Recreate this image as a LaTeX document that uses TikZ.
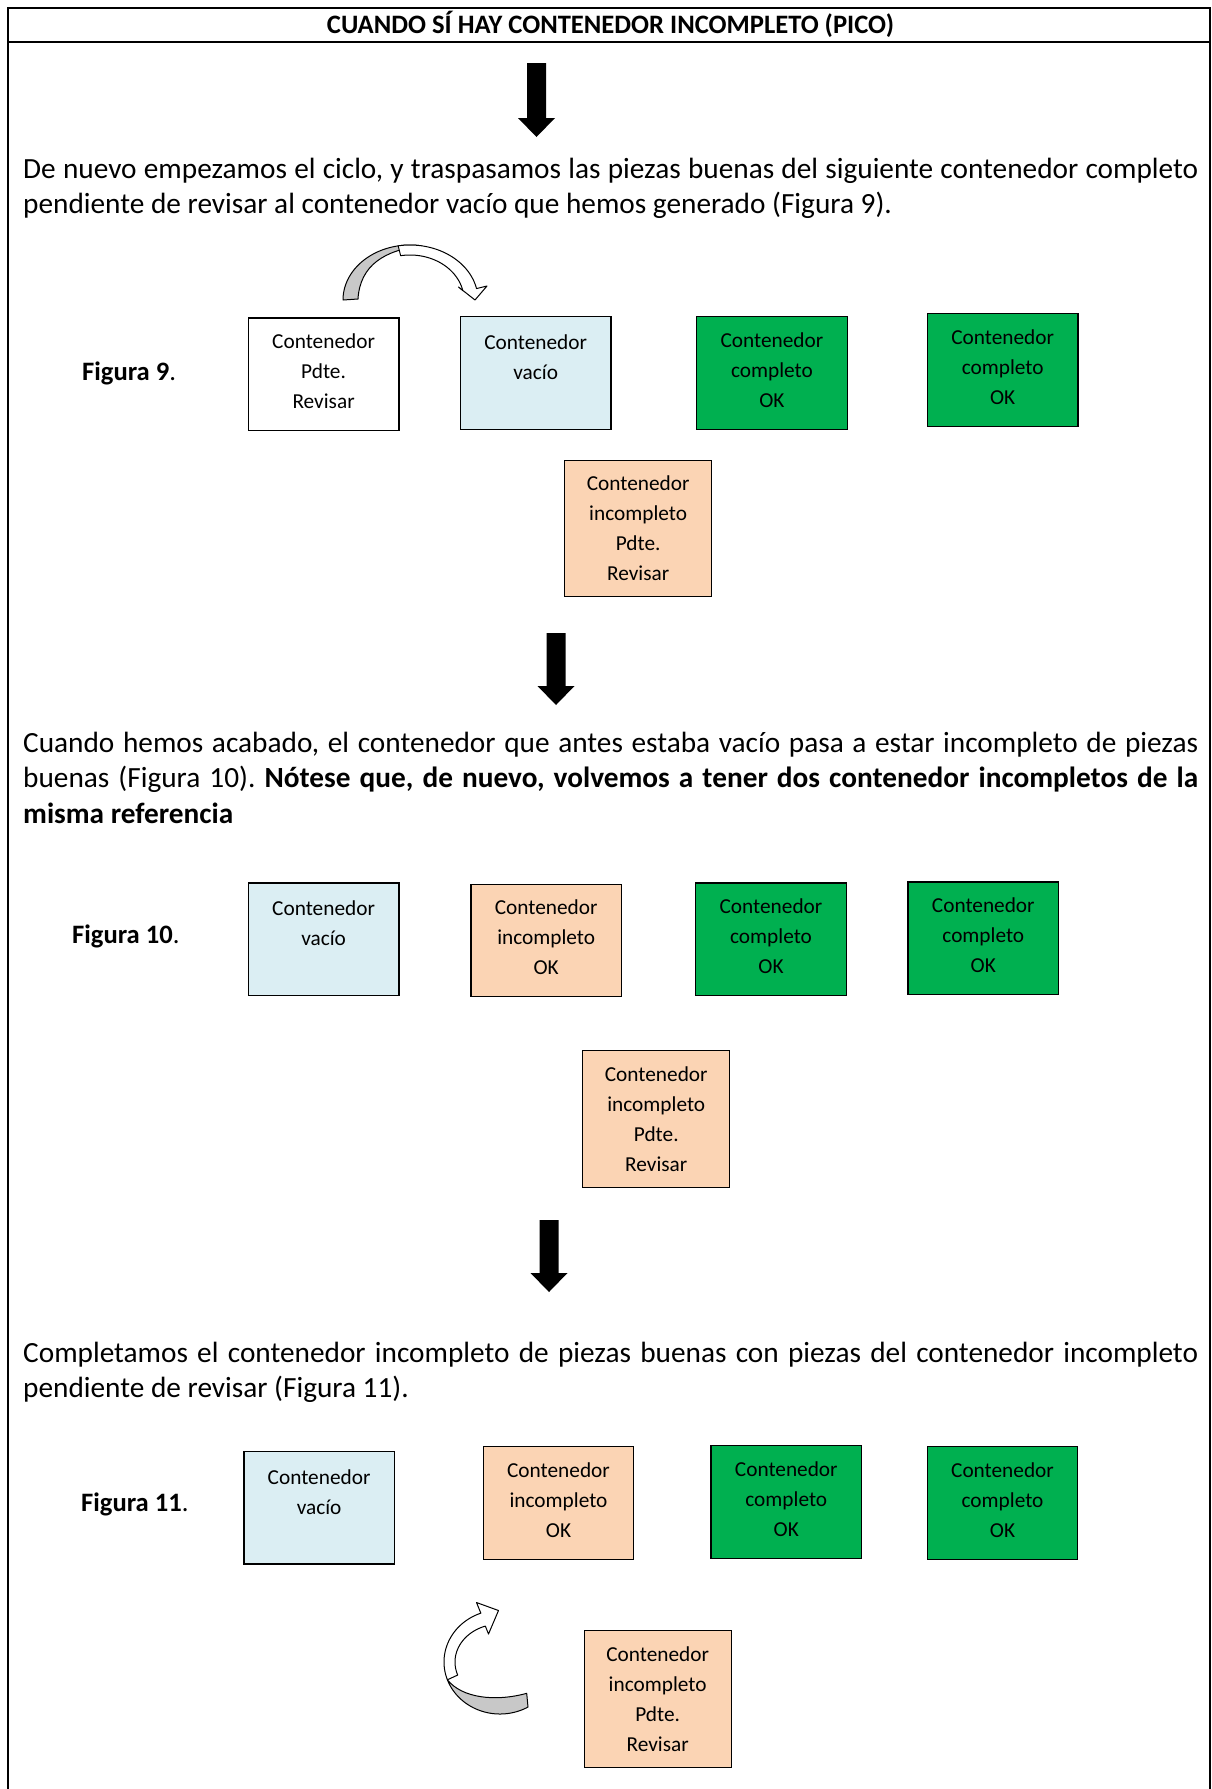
\documentclass[tikz,border=0pt]{standalone}
\usepackage{fontspec}
\setmainfont{Carlito}
\frenchspacing
\definecolor{okgreen}{HTML}{00B050}
\definecolor{peach}{HTML}{FBD4B4}
\definecolor{iceblue}{HTML}{DBEEF3}
\definecolor{ribbongrey}{HTML}{C8C8C8}
\tikzset{
  box/.style={draw=black, line width=1.3pt, inner sep=0pt, anchor=north west},
  wide/.style={minimum width=150.5pt, minimum height=112.5pt},
  tall/.style={minimum width=147pt, minimum height=136.5pt},
  boxtxt/.style={font=\fontsize{21.3}{30}\selectfont, align=center, text width=146pt, inner sep=0pt, anchor=base},
  para/.style={font=\fontsize{29.3}{35.5}\selectfont, text width=1175pt, align=justify, inner sep=0pt, anchor=base west},
  figlabel/.style={font=\fontsize{26.6}{30}\selectfont, inner sep=0pt, anchor=base west},
  ribbonback/.style={fill=ribbongrey, draw=black, line width=1pt, line join=round},
  ribbonfront/.style={fill=white, draw=black, line width=1pt, line join=round},
}
\newcommand\mydownarrow[3]{%
  \fill (#1-9.5,#2) -- (#1+9.5,#2) -- (#1+9.5,#3-19) -- (#1+18.5,#3-19) -- (#1,#3)
     -- (#1-18.5,#3-19) -- (#1-9.5,#3-19) -- cycle;}
\begin{document}
\begin{tikzpicture}[x=1pt,y=-1pt]
\useasboundingbox (0,0) rectangle (1211,1789);
% frame
\draw[line width=2pt] (8,1792) -- (8,8) -- (1210,8) -- (1210,1792);
\draw[line width=2pt] (8,42) -- (1210,42);
\node[font=\bfseries\fontsize{26.6}{30}\selectfont, anchor=base, inner sep=0pt] (title) at (610.5,33.5) {CUANDO SÍ HAY CONTENEDOR INCOMPLETO (PICO)};

% ---- step 1
\mydownarrow{536.5}{63}{137}
\node[para] (p1) at (23,178) {De nuevo empezamos el ciclo, y traspasamos las piezas buenas del siguiente contenedor completo\linebreak pendiente de revisar al contenedor vacío que hemos generado (Figura 9).};

% curved arrow fig 9
\filldraw[ribbonback] plot[domain=180:80, samples=40] ({410+67*cos(\x)},{300-55*sin(\x)})
   .. controls (385,250) and (360,265) .. (358,299) -- cycle;
\filldraw[ribbonfront] plot[domain=100:12, samples=40] ({410+68*cos(\x)},{300-55*sin(\x)})
   -- (487,286) -- (475,300) -- (458.5,287)
   -- plot[domain=12:100, samples=40] ({410+54*cos(\x)},{300-45*sin(\x)}) -- cycle;

\node[figlabel] (l9) at (82,380) {\textbf{Figura 9}.};
\node[box, wide, fill=white] (f9a) at (247.7,317.3) {};
\node[box, wide, fill=iceblue] (f9b) at (459.8,316) {};
\node[box, wide, fill=okgreen] (f9c) at (696,316) {};
\node[box, wide, fill=okgreen] (f9d) at (926.8,313) {};
\node[box, tall, fill=peach] (f9e) at (564,459.5) {};
\node[boxtxt] (t9a) at ([yshift=-31pt]f9a.north) {Contenedor\\Pdte.\\Revisar};
\node[boxtxt] (t9b) at ([yshift=-33.5pt]f9b.north) {Contenedor\\vacío};
\node[boxtxt] (t9c) at ([yshift=-31pt]f9c.north) {Contenedor\\completo\\OK};
\node[boxtxt] (t9d) at ([yshift=-31pt]f9d.north) {Contenedor\\completo\\OK};
\node[boxtxt] (t9e) at ([yshift=-31pt]f9e.north) {Contenedor\\incompleto\\Pdte.\\Revisar};

% ---- step 2
\mydownarrow{556}{633}{705}
\node[para] (p2) at (23,752) {Cuando hemos acabado, el contenedor que antes estaba vacío pasa a estar incompleto de piezas\linebreak buenas (Figura 10). \textbf{Nótese que, de nuevo, volvemos a tener dos contenedor incompletos de la\linebreak misma referencia}};

\node[figlabel] (l10) at (72,943) {\textbf{Figura 10}.};
\node[box, wide, fill=iceblue] (f10a) at (247.7,882.3) {};
\node[box, wide, fill=peach] (f10b) at (470.3,883.5) {};
\node[box, wide, fill=okgreen] (f10c) at (695.1,882.3) {};
\node[box, wide, fill=okgreen] (f10d) at (907.4,881.2) {};
\node[box, tall, fill=peach] (f10e) at (582.1,1050.1) {};
\node[boxtxt] (t10a) at ([yshift=-33.5pt]f10a.north) {Contenedor\\vacío};
\node[boxtxt] (t10b) at ([yshift=-31pt]f10b.north) {Contenedor\\incompleto\\OK};
\node[boxtxt] (t10c) at ([yshift=-31pt]f10c.north) {Contenedor\\completo\\OK};
\node[boxtxt] (t10d) at ([yshift=-31pt]f10d.north) {Contenedor\\completo\\OK};
\node[boxtxt] (t10e) at ([yshift=-31pt]f10e.north) {Contenedor\\incompleto\\Pdte.\\Revisar};

% ---- step 3
\mydownarrow{549}{1220}{1292}
\node[para] (p3) at (23,1362) {Completamos el contenedor incompleto de piezas buenas con piezas del contenedor incompleto\linebreak pendiente de revisar (Figura 11).};

\node[figlabel] (l11) at (81,1511) {\textbf{Figura 11}.};
\node[box, wide, fill=iceblue] (f11a) at (243.2,1450.7) {};
\node[box, wide, fill=peach] (f11b) at (482.6,1446) {};
\node[box, wide, fill=okgreen] (f11c) at (710.4,1445) {};
\node[box, wide, fill=okgreen] (f11d) at (926.6,1446) {};
\node[box, tall, fill=peach] (f11e) at (583.5,1630) {};
\node[boxtxt] (t11a) at ([yshift=-33.5pt]f11a.north) {Contenedor\\vacío};
\node[boxtxt] (t11b) at ([yshift=-31pt]f11b.north) {Contenedor\\incompleto\\OK};
\node[boxtxt] (t11c) at ([yshift=-31pt]f11c.north) {Contenedor\\completo\\OK};
\node[boxtxt] (t11d) at ([yshift=-31pt]f11d.north) {Contenedor\\completo\\OK};
\node[boxtxt] (t11e) at ([yshift=-31pt]f11e.north) {Contenedor\\incompleto\\Pdte.\\Revisar};

% curved arrow fig 11
\filldraw[ribbonfront] plot[domain=200:110, samples=40] ({500+56*cos(\x)},{1662-52*sin(\x)})
   -- (476.5,1602.5) -- (498.5,1610.5) -- (488.5,1634)
   -- plot[domain=109:200, samples=40] ({500+45*cos(\x)},{1662-38*sin(\x)}) -- cycle;
\filldraw[ribbonback] plot[domain=200:300, samples=40] ({500+56*cos(\x)},{1662-52*sin(\x)})
   -- (526.7,1693.3) .. controls (495,1702) and (462,1698) .. (447.4,1679.8) -- cycle;
\end{tikzpicture}
\end{document}
